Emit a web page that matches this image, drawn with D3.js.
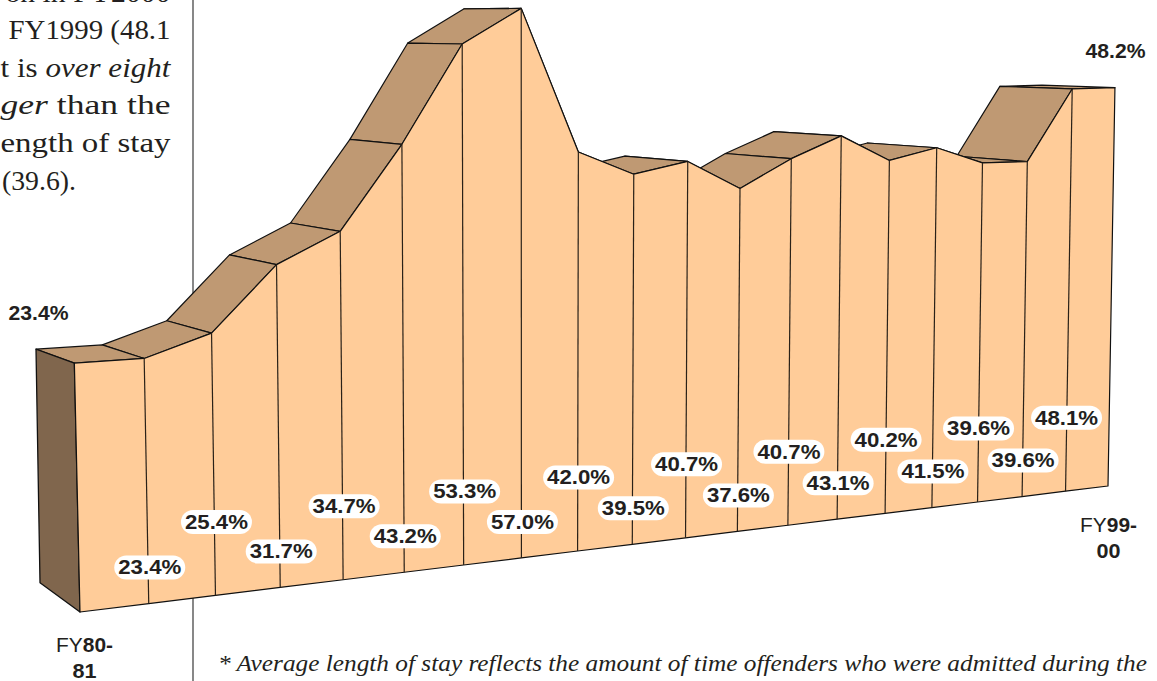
<!DOCTYPE html>
<html>
<head>
<meta charset="utf-8">
<script src="https://cdnjs.cloudflare.com/ajax/libs/d3/7.8.5/d3.min.js"></script>
<style>
html,body{margin:0;padding:0;background:#fff;overflow:hidden}
svg{display:block}
</style>
</head>
<body>
<svg id="c" width="1157" height="681"></svg>
<script>
const categories = ["80-81","81-82","82-83","83-84","84-85","85-86","86-87","87-88","88-89","89-90","90-91","91-92","92-93","93-94","94-95","95-96","96-97","97-98","98-99","99-00"];
const stayValues = [23.4,23.4,25.4,31.7,34.7,43.2,53.3,57.0,42.0,39.5,40.7,37.6,40.7,43.1,40.2,41.5,39.6,39.6,48.1,48.2];
const bodyLines = [
  [["on in FY2000",false]],
  [["FY1999 (48.1",false]],
  [["t is ",false],["over eight",true]],
  [["ger",true],[" than the",false]],
  [["ength of stay",false]],
  [["(39.6).",false]]
];
const bodyWidths = [165,162,170,170,170,74];
const footnote = "* Average length of stay reflects the amount of time offenders who were admitted during the";

const W = 1157, H = 681;
const svg = d3.select("#c");
const SANS = "'Liberation Sans', Arial, sans-serif";
const SERIF = "'Liberation Serif', serif";
const INK = "#231f20";

// depth projection shared by the chart's marks
const tScale = d3.scaleLinear().domain([0, stayValues.length - 1]).range([0, 1]);
const depth = 0.29, backDepth = 0.27, topDrop = 1.5;
const wOf = i => 1 + depth * tScale(i);
const persp = (i, k) => { const t = tScale(i); return t * (1 + k) / (1 + k * t); };

const frontFloorX = d3.scaleLinear().domain([0, 1]).range([80, 1108]);
const frontFloorY = d3.scaleLinear().domain([80, 1108]).range([612, 486]);
const backX = d3.scaleLinear().domain([0, 1]).range([36, 1042]);
const backFloorY = d3.scaleLinear().domain([36, 1042]).range([590, 469.6]);
const frontH = d3.scaleLinear().domain([0, 1]).range([0, 10.7]);
const backH = d3.scaleLinear().domain([0, 1]).range([0, 10.29]);

const front = (i, v) => {
  const bx = frontFloorX(persp(i, depth));
  const w = wOf(i);
  const h = frontH(v) / w;
  const lean = (bx - 530) * 0.00005 / (w * w);
  return [bx + lean * h, frontFloorY(bx) - h + (v > 0 ? topDrop : 0)];
};
const back = (i, v) => {
  const x = backX(persp(i, backDepth));
  return [x, backFloorY(x) - backH(v) / wOf(i)];
};

const line = d3.line();
const closed = pts => line(pts) + "Z";

// column rule behind the chart
svg.append("line").attr("x1", 193).attr("x2", 193).attr("y1", 0).attr("y2", H)
  .attr("stroke", "#6a6a6a").attr("stroke-width", 1.6);

// body copy fragment
const body = svg.append("g").attr("font-family", SERIF).attr("font-size", 27.5).attr("fill", INK);
bodyLines.forEach((runs, n) => {
  const last = n === bodyLines.length - 1;
  const t = body.append("text").attr("y", 1.5 + n * 37.6)
    .attr("text-anchor", last ? "start" : "end").attr("x", last ? 2 : 170.5)
    .attr("textLength", bodyWidths[n]).attr("lengthAdjust", "spacingAndGlyphs");
  runs.forEach(r => t.append("tspan").attr("font-style", r[1] ? "italic" : "normal").text(r[0]));
});

// top faces, painted right to left, front wall hides what faces away
const faces = d3.range(stayValues.length - 1).reverse();
svg.append("g").selectAll("path").data(faces).join("path")
  .attr("d", i => closed([front(i, stayValues[i]), front(i + 1, stayValues[i + 1]), back(i + 1, stayValues[i + 1]), back(i, stayValues[i])]))
  .attr("fill", "#bf9973").attr("stroke", "#111").attr("stroke-width", 1.2).attr("stroke-linejoin", "round");

// left side wall
const sideFloor = 0.7, sideNudge = 4;
const topBack = back(0, stayValues[0]);
const floorBack = back(0, sideFloor);
svg.append("path")
  .attr("d", closed([topBack, front(0, stayValues[0]), front(0, 0), [floorBack[0] + sideNudge, floorBack[1]]]))
  .attr("fill", "#80664d").attr("stroke", "#111").attr("stroke-width", 1.3).attr("stroke-linejoin", "round");

// front wall
const idx = d3.range(stayValues.length);
const frontPts = idx.map(i => front(i, stayValues[i])).concat(idx.slice().reverse().map(i => front(i, 0)));
svg.append("path").attr("d", closed(frontPts))
  .attr("fill", "#ffcc99").attr("stroke", "#111").attr("stroke-width", 1.2).attr("stroke-linejoin", "round");

// year dividers
svg.append("g").selectAll("path").data(idx.slice(1, -1)).join("path")
  .attr("d", i => line([front(i, stayValues[i]), front(i, 0)]))
  .attr("stroke", "#2a2118").attr("stroke-width", 1.2).attr("fill", "none");

// value pills, alternating rows above the floor
const rowLift = [36, 73.5];
const pillW = 71, pillH = 24, textW = 63;
const pill = svg.append("g").selectAll("g").data(idx.slice(1, -1)).join("g")
  .attr("transform", i => {
    const bx = frontFloorX(persp(i, depth));
    return `translate(${bx + 1},${frontFloorY(bx) - rowLift[(i + 1) % 2]})`;
  });
pill.append("rect").attr("x", -pillW / 2).attr("y", -pillH / 2).attr("width", pillW).attr("height", pillH)
  .attr("rx", 12).attr("fill", "#fff");
const fmt = d3.format(".1f");
pill.append("text").attr("text-anchor", "middle").attr("y", 6.8)
  .attr("font-family", SANS).attr("font-weight", 700).attr("font-size", 19.5).attr("fill", INK)
  .attr("textLength", textW).attr("lengthAdjust", "spacingAndGlyphs")
  .text(i => fmt(stayValues[i]) + "%");

// end values
const ends = [{ i: 0, x: 38.5, y: 319.5 }, { i: stayValues.length - 1, x: 1115.5, y: 57.5 }];
svg.append("g").selectAll("text").data(ends).join("text")
  .attr("x", d => d.x).attr("y", d => d.y).attr("text-anchor", "middle")
  .attr("font-family", SANS).attr("font-weight", 700).attr("font-size", 19.5).attr("fill", INK)
  .attr("textLength", 60).attr("lengthAdjust", "spacingAndGlyphs")
  .text(d => fmt(stayValues[d.i]) + "%");

// year captions
const firstYear = categories[0].split("-"), lastYear = categories[categories.length - 1].split("-");
const caption = (parts, cx, y1) => {
  const a = svg.append("text").attr("x", cx).attr("y", y1).attr("text-anchor", "middle")
    .attr("font-family", SANS).attr("font-size", 20).attr("fill", INK)
    .attr("textLength", 57).attr("lengthAdjust", "spacingAndGlyphs");
  a.append("tspan").text("FY");
  a.append("tspan").attr("font-weight", 700).text(parts[0] + "-");
  svg.append("text").attr("x", cx).attr("y", y1 + 26).attr("text-anchor", "middle")
    .attr("font-family", SANS).attr("font-size", 20).attr("font-weight", 700).attr("fill", INK)
    .attr("textLength", 24).attr("lengthAdjust", "spacingAndGlyphs").text(parts[1]);
};
caption(firstYear, 84.5, 652);
caption(lastYear, 1108.5, 532);

// footnote
svg.append("text").attr("x", 218).attr("y", 671)
  .attr("font-family", SERIF).attr("font-style", "italic").attr("font-size", 23).attr("fill", INK)
  .attr("textLength", 929).attr("lengthAdjust", "spacingAndGlyphs").text(footnote);
</script>
</body>
</html>
